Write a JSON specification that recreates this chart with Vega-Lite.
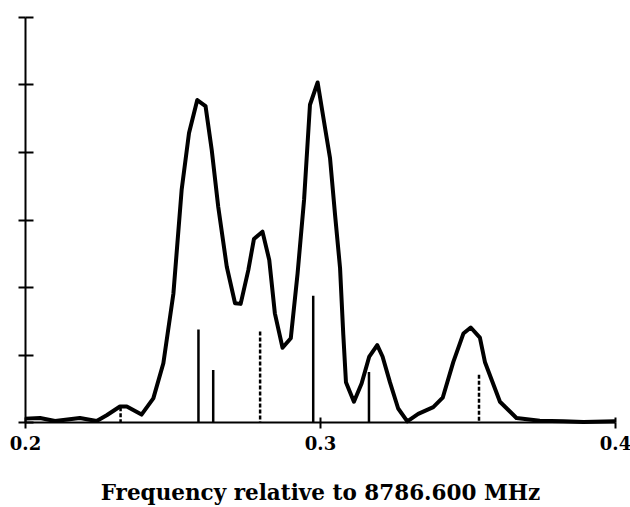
{
 "$schema": "https://vega.github.io/schema/vega-lite/v6.json",
 "width": 590, "height": 405,
 "autosize": {"type": "none"},
 "padding": {"left": 25, "top": 17, "right": 15, "bottom": 85},
 "background": "white",
 "config": {"view": {"stroke": null}, "axis": {"domainColor": "black", "tickColor": "black", "labelColor": "black", "titleColor": "black", "labelFont": "DejaVu Serif", "titleFont": "DejaVu Serif", "labelFontWeight": "bold", "labelFontSize": 18, "grid": false}},
 "datasets": {
  "spectrum": [
   {"f":0.2,"a":0.05},{"f":0.2051,"a":0.06},{"f":0.2102,"a":0.015},{"f":0.2186,"a":0.06},{"f":0.2243,"a":0.015},
   {"f":0.2277,"a":0.1},{"f":0.2322,"a":0.23},{"f":0.2345,"a":0.23},{"f":0.2395,"a":0.11},{"f":0.2435,"a":0.35},
   {"f":0.2469,"a":0.87},{"f":0.2503,"a":1.9},{"f":0.2531,"a":3.44},{"f":0.2556,"a":4.28},{"f":0.2584,"a":4.77},
   {"f":0.2612,"a":4.68},{"f":0.2633,"a":4.03},{"f":0.2655,"a":3.19},{"f":0.2684,"a":2.3},{"f":0.2712,"a":1.76},
   {"f":0.2731,"a":1.75},{"f":0.2757,"a":2.25},{"f":0.2776,"a":2.71},{"f":0.2805,"a":2.82},{"f":0.2828,"a":2.4},
   {"f":0.2847,"a":1.61},{"f":0.2873,"a":1.1},{"f":0.2901,"a":1.24},{"f":0.2924,"a":2.2},{"f":0.2946,"a":3.29},
   {"f":0.2966,"a":4.7},{"f":0.2992,"a":5.03},{"f":0.3017,"a":4.36},{"f":0.3034,"a":3.91},{"f":0.3051,"a":3.07},
   {"f":0.3068,"a":2.28},{"f":0.3079,"a":1.29},{"f":0.3088,"a":0.59},{"f":0.3115,"a":0.3},{"f":0.3141,"a":0.57},
   {"f":0.3167,"a":0.97},{"f":0.3194,"a":1.14},{"f":0.3212,"a":0.97},{"f":0.3237,"a":0.59},{"f":0.3265,"a":0.2},
   {"f":0.3296,"a":0.01},{"f":0.3333,"a":0.12},{"f":0.3384,"a":0.22},{"f":0.3416,"a":0.36},{"f":0.3452,"a":0.89},
   {"f":0.3486,"a":1.31},{"f":0.3511,"a":1.4},{"f":0.3542,"a":1.25},{"f":0.3559,"a":0.89},{"f":0.361,"a":0.3},
   {"f":0.3666,"a":0.06},{"f":0.3745,"a":0.02},{"f":0.3825,"a":0.01},{"f":0.3893,"a":0.0},{"f":0.4,"a":0.01}
  ],
  "sticks": [
   {"f":0.2324,"h":0.22,"k":"dashed"},
   {"f":0.2588,"h":1.37,"k":"solid"},
   {"f":0.2638,"h":0.77,"k":"solid"},
   {"f":0.2797,"h":1.34,"k":"dashed"},
   {"f":0.2977,"h":1.87,"k":"solid"},
   {"f":0.3166,"h":0.74,"k":"solid"},
   {"f":0.3539,"h":0.70,"k":"dashed"}
  ]
 },
 "layer": [
  {
   "data": {"name": "spectrum"},
   "mark": {"type": "line", "color": "black", "strokeWidth": 4, "strokeJoin": "round"},
   "encoding": {
    "x": {"field": "f", "type": "quantitative", "scale": {"domain": [0.2, 0.4], "nice": false, "zero": false},
      "axis": {"orient": "bottom", "values": [0.2, 0.3, 0.4], "format": ".1f", "title": "Frequency relative to 8786.600 MHz",
        "labelFontSize": 18, "labelFontWeight": "bold", "titleFontSize": 21.5, "titleFontWeight": "bold",
        "tickSize": 6, "tickWidth": 2, "domainWidth": 2, "labelPadding": 7, "titlePadding": 29, "labelFlush": false}},
    "y": {"field": "a", "type": "quantitative", "scale": {"domain": [0, 6], "nice": false},
      "axis": {"orient": "left", "values": [0, 1, 2, 3, 4, 5, 6], "labels": false, "title": null, "tickSize": 7, "tickWidth": 2, "domainWidth": 2}}
   }
  },
  {
   "data": {"name": "sticks"},
   "mark": {"type": "rule", "color": "black", "strokeWidth": 2.5},
   "encoding": {
    "x": {"field": "f", "type": "quantitative", "scale": {"domain": [0.2, 0.4], "nice": false, "zero": false},
      "axis": {"orient": "bottom", "values": [0.2, 0.3, 0.4], "labels": false, "domain": false, "title": null, "tickSize": -5, "tickWidth": 2}},
    "y": {"field": "h", "type": "quantitative", "scale": {"domain": [0, 6], "nice": false},
      "axis": {"orient": "left", "values": [0, 1, 2, 3, 4, 5, 6], "labels": false, "domain": false, "title": null, "tickSize": -8, "tickWidth": 2}},
    "y2": {"datum": 0},
    "strokeDash": {"field": "k", "type": "nominal", "scale": {"domain": ["solid", "dashed"], "range": [[1, 0], [4, 2]]}, "legend": null}
   }
  }
 ],
 "resolve": {"axis": {"x": "independent", "y": "independent"}}
}
